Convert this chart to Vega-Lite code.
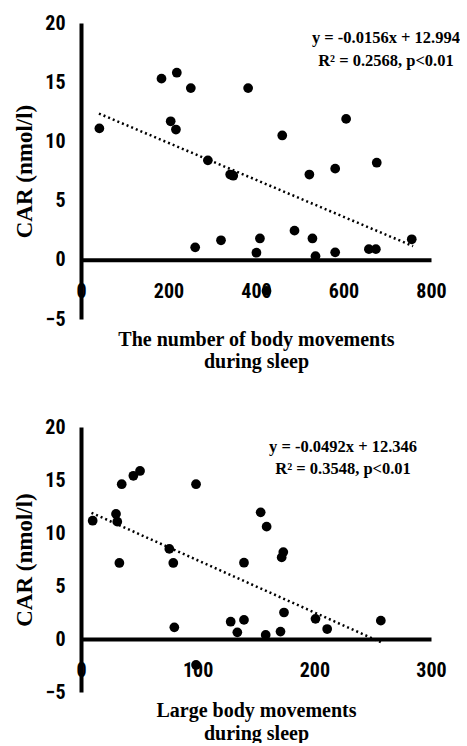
{
  "$schema": "https://vega.github.io/schema/vega-lite/v6.json",
  "padding": {"left": 13, "top": 13, "right": 0, "bottom": 0},
  "background": "white",
  "datasets": {
    "top": [
      {"movements": 42, "car": 11.1}, {"movements": 184, "car": 15.3}, {"movements": 219, "car": 15.8},
      {"movements": 251, "car": 14.5}, {"movements": 382, "car": 14.5}, {"movements": 205, "car": 11.7},
      {"movements": 217, "car": 11.0}, {"movements": 290, "car": 8.4}, {"movements": 341, "car": 7.2},
      {"movements": 348, "car": 7.1}, {"movements": 261, "car": 1.05}, {"movements": 320, "car": 1.65},
      {"movements": 409, "car": 1.8}, {"movements": 401, "car": 0.6}, {"movements": 460, "car": 10.5},
      {"movements": 606, "car": 11.9}, {"movements": 522, "car": 7.2}, {"movements": 581, "car": 7.7},
      {"movements": 676, "car": 8.2}, {"movements": 488, "car": 2.46}, {"movements": 529, "car": 1.8},
      {"movements": 536, "car": 0.3}, {"movements": 581, "car": 0.63}, {"movements": 658, "car": 0.9},
      {"movements": 674, "car": 0.9}, {"movements": 756, "car": 1.73}, {"movements": 424, "car": -2.63}
    ],
    "topTrend": [{"movements": 41, "car": 12.354}, {"movements": 759, "car": 1.154}],
    "topNote": [
      {"movements": 697, "car": 18.7, "label": "y = -0.0156x + 12.994"},
      {"movements": 697, "car": 16.8, "label": "R² = 0.2568, p<0.01"}
    ],
    "bottom": [
      {"large": 10, "car": 11.16}, {"large": 34.9, "car": 14.6}, {"large": 44.9, "car": 15.4},
      {"large": 50.6, "car": 15.85}, {"large": 98.6, "car": 14.6}, {"large": 30, "car": 11.8},
      {"large": 31.1, "car": 11.07}, {"large": 32.9, "car": 7.17}, {"large": 75.7, "car": 8.5},
      {"large": 79.1, "car": 7.17}, {"large": 80, "car": 1.1}, {"large": 139.7, "car": 7.2},
      {"large": 128.3, "car": 1.63}, {"large": 139.7, "car": 1.8}, {"large": 134, "car": 0.63},
      {"large": 154, "car": 11.95}, {"large": 159.1, "car": 10.6}, {"large": 173.4, "car": 8.2},
      {"large": 172, "car": 7.7}, {"large": 174, "car": 2.5}, {"large": 201, "car": 1.9},
      {"large": 211, "car": 0.94}, {"large": 257, "car": 1.73}, {"large": 158.3, "car": 0.38},
      {"large": 171, "car": 0.7}, {"large": 98.6, "car": -2.45}
    ],
    "bottomTrend": [{"large": 9, "car": 11.903}, {"large": 257, "car": -0.298}],
    "bottomNote": [
      {"large": 224.6, "car": 18.1, "label": "y = -0.0492x + 12.346"},
      {"large": 224.6, "car": 16.0, "label": "R² = 0.3548, p<0.01"}
    ]
  },
  "vconcat": [
    {
      "width": 350,
      "height": 296,
      "encoding": {
        "x": {"field": "movements", "type": "quantitative",
          "scale": {"domain": [0, 800], "nice": false, "zero": false},
          "axis": {"values": [0, 200, 400, 600, 800], "offset": -59.2, "labelPadding": 22, "titlePadding": 28, "titleLineHeight": 22,
            "title": ["The number of body movements", "during sleep"]}},
        "y": {"field": "car", "type": "quantitative",
          "scale": {"domain": [-5, 20], "nice": false, "zero": false},
          "axis": {"values": [-5, 0, 5, 10, 15, 20], "labelPadding": 16, "titlePadding": 8, "titleFontSize": 23, "title": "CAR (nmol/l)"}}
      },
      "layer": [
        {"data": {"name": "topTrend"}, "mark": {"type": "line", "strokeDash": [2, 3], "strokeWidth": 2.5, "color": "black"}},
        {"data": {"name": "top"}, "mark": {"type": "point", "filled": true, "size": 95, "color": "black", "opacity": 1}},
        {"data": {"name": "topNote"}, "mark": {"type": "text", "font": "Liberation Serif", "fontWeight": "bold", "fontSize": 16.5, "color": "black", "align": "center", "baseline": "middle"},
          "encoding": {"text": {"field": "label", "type": "nominal"}}}
      ]
    },
    {
      "width": 350,
      "height": 265,
      "encoding": {
        "x": {"field": "large", "type": "quantitative",
          "scale": {"domain": [0, 300], "nice": false, "zero": false},
          "axis": {"values": [0, 100, 200, 300], "offset": -53, "labelPadding": 21, "titlePadding": 20, "titleLineHeight": 23,
            "title": ["Large body movements", "during sleep"]}},
        "y": {"field": "car", "type": "quantitative",
          "scale": {"domain": [-5, 20], "nice": false, "zero": false},
          "axis": {"values": [-5, 0, 5, 10, 15, 20], "labelPadding": 16, "titlePadding": 8, "titleFontSize": 23, "title": "CAR (nmol/l)"}}
      },
      "layer": [
        {"data": {"name": "bottomTrend"}, "mark": {"type": "line", "strokeDash": [2, 3], "strokeWidth": 2.5, "color": "black"}},
        {"data": {"name": "bottom"}, "mark": {"type": "point", "filled": true, "size": 95, "color": "black", "opacity": 1}},
        {"data": {"name": "bottomNote"}, "mark": {"type": "text", "font": "Liberation Serif", "fontWeight": "bold", "fontSize": 16.5, "color": "black", "align": "center", "baseline": "middle"},
          "encoding": {"text": {"field": "label", "type": "nominal"}}}
      ]
    }
  ],
  "spacing": 45,
  "config": {
    "view": {"stroke": null},
    "axis": {
      "grid": false,
      "ticks": false,
      "domainColor": "black",
      "domainWidth": 4,
      "labelColor": "black",
      "titleColor": "black",
      "labelFont": "Roboto Condensed, Liberation Sans Narrow, Roboto, sans-serif",
      "labelFontWeight": "bold",
      "labelFontSize": 20,
      "labelFlush": false,
      "labelOverlap": false,
      "titleFont": "Liberation Serif",
      "titleFontWeight": "bold",
      "titleFontSize": 20
    }
  }
}
